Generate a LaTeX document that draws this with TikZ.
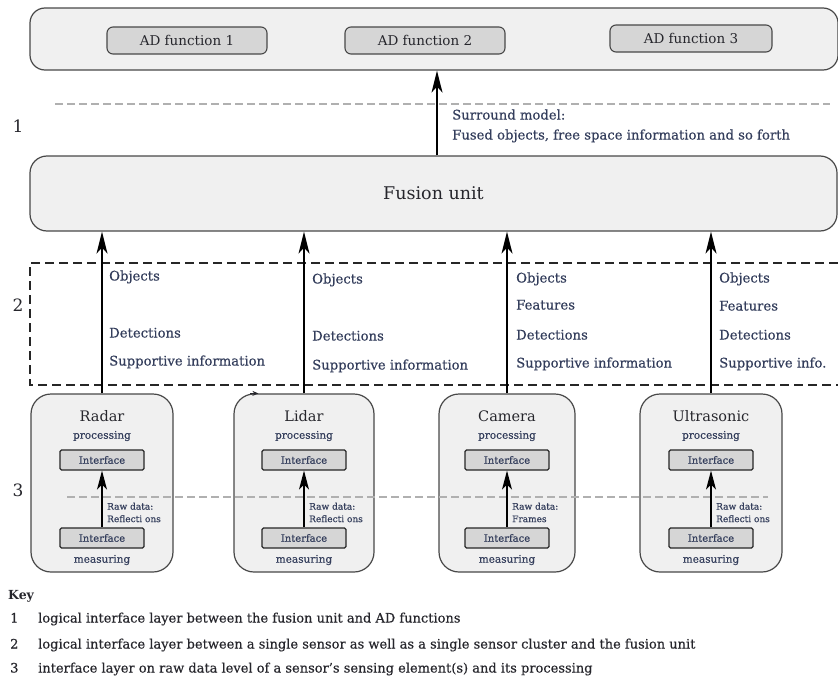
\documentclass[tikz,border=0pt]{standalone}
\usepackage{fontspec}
\setmainfont{DejaVu Serif}
\newfontfamily\heavyserif{DejaVu Serif}[FakeBold=0.45]
\usetikzlibrary{arrows.meta}

\definecolor{panelfill}{RGB}{240,240,240}
\definecolor{chipfill}{RGB}{214,214,214}
\definecolor{edge}{RGB}{72,72,72}
\definecolor{ink}{RGB}{38,38,44}
\definecolor{labelink}{RGB}{52,62,92}
\definecolor{guide}{RGB}{176,176,176}

\tikzset{
  panelbox/.style={draw=edge, line width=1.2pt, fill=panelfill, rounded corners=15pt, inner sep=0pt},
  chipbox/.style={draw=edge, line width=1.1pt, fill=chipfill, rounded corners=6pt, inner sep=0pt,
    minimum width=160pt, minimum height=27pt, text=ink, font=\fontsize{13.5}{15}\selectfont},
  sensorbox/.style={draw=edge, line width=1.2pt, fill=panelfill, rounded corners=20pt, inner sep=0pt,
    minimum height=178pt},
  sensortitle/.style={inner sep=0pt, text=ink, font=\fontsize{14.5}{16}\selectfont},
  stagelabel/.style={inner sep=0pt, text=labelink, font=\heavyserif\fontsize{10.5}{12}\selectfont},
  portbox/.style={draw=black!85, line width=1.2pt, fill=chipfill, rounded corners=1.5pt, inner sep=0pt,
    minimum width=84pt, minimum height=20pt, text=labelink, font=\heavyserif\fontsize{10}{12}\selectfont},
  rawlabel/.style={anchor=west, inner sep=0pt, align=left, text=labelink,
    font=\heavyserif\fontsize{9}{12.5}\selectfont},
  flowlabel/.style={anchor=west, inner sep=0pt, text=labelink, font=\heavyserif\fontsize{13.2}{15}\selectfont,
    text height=0.7em, text depth=0.2em},
  layernum/.style={inner sep=0pt, text=ink, font=\fontsize{17}{19}\selectfont},
  keytext/.style={anchor=west, inner sep=0pt, text=ink, font=\heavyserif\fontsize{13}{15}\selectfont,
    text height=0.7em, text depth=0.2em},
  bigarrow/.style={line width=1.5pt, -{Stealth[length=22pt,width=11pt,inset=6pt]}},
  smallarrow/.style={line width=1.4pt, -{Stealth[length=19pt,width=10pt,inset=5pt]}},
  layerline/.style={draw=guide, line width=2pt, dash pattern=on 8pt off 4pt},
  layerbox/.style={draw=black!85, line width=2.4pt, dash pattern=on 9pt off 5pt},
}

\begin{document}
\begin{tikzpicture}[x=1pt,y=-1pt]
\useasboundingbox (0,0) rectangle (838,680);

% AD function layer
\node[panelbox, minimum width=808pt, minimum height=62pt] (adpanel) at (434,39) {};
\node[chipbox] (ad1) at (187,40.5) {AD function 1};
\node[chipbox] (ad2) at (425,40.5) {AD function 2};
\node[chipbox, minimum width=162pt] (ad3) at (691,38.5) {AD function 3};

% fusion unit
\node[panelbox, minimum width=807pt, minimum height=75pt, rounded corners=17pt,
      text=ink, font=\fontsize{17.5}{20}\selectfont] (fusion) at (433.5,193.5) {Fusion unit};

% interface layer 1
\draw[layerline] (55,104) -- (830,104);
\node[layernum] (n1) at (18,126) {1};
\coordinate (upx) at (437,155);
\draw[bigarrow] (fusion.north -| upx) -- (adpanel.south -| upx);
\node[flowlabel] (sm1) at (452,117) {Surround model:};
\node[flowlabel] (sm2) at (452,137) {Fused objects, free space information and so forth};

% interface layer 2
\draw[layerbox] (838,263) -- (30,263) -- (30,385) -- (838,385);
\node[layernum] (n2) at (18,305) {2};

% sensors
\foreach \id/\cx/\w/\title/\rawtext in {
    radar/102/142/Radar/Reflecti ons,
    lidar/304/140/Lidar/Reflecti ons,
    camera/507/136/Camera/Frames,
    ultra/711/142/Ultrasonic/Reflecti ons}{
  \node[sensorbox, minimum width=\w pt] (\id) at (\cx,483) {};
  \node[sensortitle] (\id-title) at (\cx,416) {\title};
  \node[stagelabel] (\id-proc) at (\cx,436) {processing};
  \node[portbox] (\id-up) at (\cx,460) {Interface};
  \node[portbox] (\id-dn) at (\cx,538) {Interface};
  \node[stagelabel] (\id-meas) at (\cx,560) {measuring};
  \node[rawlabel] (\id-raw) at (\cx+5,512.5) {Raw data:\\\rawtext};
}
\draw[-{Stealth[length=6pt,width=5pt]}, line width=1pt, draw=ink]
  ([xshift=17pt]lidar.north west) -- ([xshift=25pt]lidar.north west);

% interface layer 3
\draw[layerline] (67,497) -- (768,497);
\node[layernum] (n3) at (18,490) {3};
\foreach \id in {radar,lidar,camera,ultra}{
  \draw[smallarrow] (\id-dn) -- (\id-up);
  \draw[bigarrow] (\id.north) -- (\id.north |- fusion.south);
}

% sensor outputs
\node[flowlabel] (r1) at (109,278) {Objects};
\node[flowlabel] (r3) at (109,335) {Detections};
\node[flowlabel] (r4) at (109,363) {Supportive information};

\node[flowlabel] (l1) at (312,281) {Objects};
\node[flowlabel] (l3) at (312,338) {Detections};
\node[flowlabel] (l4) at (312,367) {Supportive information};

\node[flowlabel] (c1) at (516,280) {Objects};
\node[flowlabel] (c2) at (516,307) {Features};
\node[flowlabel] (c3) at (516,337) {Detections};
\node[flowlabel] (c4) at (516,365) {Supportive information};

\node[flowlabel] (u1) at (719,280) {Objects};
\node[flowlabel] (u2) at (719,308) {Features};
\node[flowlabel] (u3) at (719,337) {Detections};
\node[flowlabel] (u4) at (719,365) {Supportive info.};

% key
\node[keytext, font=\fontsize{12.5}{14}\selectfont\bfseries] (key) at (8,597) {Key};
\node[keytext] (k1n) at (10,620) {1};
\node[keytext] (k1) at (38,620) {logical interface layer between the fusion unit and AD functions};
\node[keytext] (k2n) at (10,646) {2};
\node[keytext] (k2) at (38,646) {logical interface layer between a single sensor as well as a single sensor cluster and the fusion unit};
\node[keytext] (k3n) at (10,670) {3};
\node[keytext] (k3) at (38,670) {interface layer on raw data level of a sensor’s sensing element(s) and its processing};
\end{tikzpicture}
\end{document}
